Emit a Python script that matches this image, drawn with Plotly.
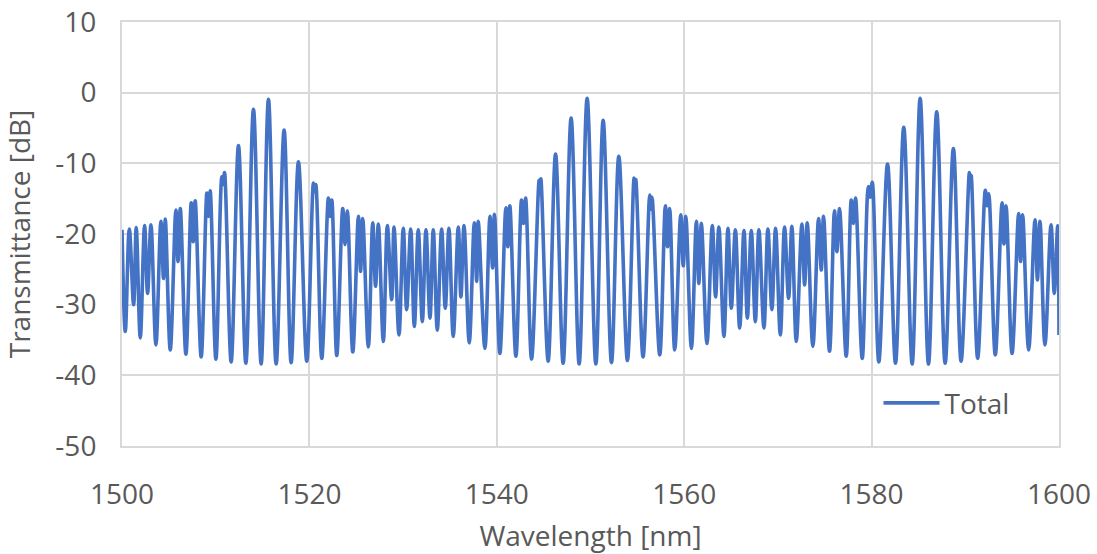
import plotly.graph_objects as go

# Extrema (peaks, inner dips and troughs)
wavelength_nm = [
    1500.00, 1500.35, 1500.78, 1501.24, 1501.52, 1501.95, 1502.41, 1502.73, 1503.09, 1503.62,
    1504.15, 1504.43, 1504.62, 1505.15, 1505.75, 1505.98, 1506.22, 1506.82, 1507.39, 1507.60,
    1507.81, 1508.45, 1509.06, 1509.23, 1509.41, 1510.02, 1510.66, 1510.80, 1510.94, 1511.65,
    1512.43, 1513.22, 1514.03, 1514.85, 1515.63, 1516.45, 1517.30, 1518.05, 1518.83, 1519.72,
    1520.43, 1520.55, 1520.68, 1521.32, 1522.03, 1522.21, 1522.39, 1522.92, 1523.56, 1523.80,
    1524.05, 1524.63, 1525.23, 1525.46, 1525.69, 1526.29, 1526.76, 1527.06, 1527.36, 1527.89,
    1528.32, 1528.78, 1529.03, 1529.56, 1530.02, 1530.38, 1530.81, 1531.20, 1531.62, 1532.05,
    1532.44, 1532.87, 1533.22, 1533.65, 1534.11, 1534.50, 1534.89, 1535.35, 1535.89, 1536.17,
    1536.50, 1537.06, 1537.60, 1537.85, 1538.02, 1538.73, 1539.27, 1539.55, 1539.75, 1540.33,
    1540.97, 1541.18, 1541.39, 1542.04, 1542.64, 1542.85, 1543.07, 1543.71, 1544.52, 1544.61,
    1544.70, 1545.48, 1546.27, 1547.08, 1547.93, 1548.79, 1549.64, 1550.57, 1551.35, 1552.24,
    1553.02, 1553.94, 1554.65, 1554.74, 1554.83, 1555.61, 1556.32, 1556.45, 1556.57, 1557.39,
    1557.99, 1558.22, 1558.45, 1558.99, 1559.63, 1559.90, 1560.17, 1560.77, 1561.30, 1561.56,
    1561.83, 1562.43, 1563.00, 1563.35, 1563.70, 1564.24, 1564.67, 1565.03, 1565.46, 1565.92,
    1566.38, 1566.74, 1567.16, 1567.59, 1567.97, 1568.51, 1568.93, 1569.36, 1569.75, 1570.26,
    1570.71, 1571.14, 1571.49, 1571.96, 1572.56, 1572.85, 1573.13, 1573.73, 1574.34, 1574.63,
    1574.87, 1575.51, 1576.04, 1576.30, 1576.58, 1577.29, 1577.83, 1578.05, 1578.28, 1579.00,
    1579.65, 1579.85, 1580.07, 1580.77, 1581.70, 1582.55, 1583.43, 1584.33, 1585.18, 1586.07,
    1586.95, 1587.85, 1588.73, 1589.55, 1590.44, 1590.53, 1590.62, 1591.32, 1592.14, 1592.32,
    1592.50, 1593.20, 1593.92, 1594.13, 1594.35, 1594.99, 1595.69, 1595.90, 1596.12, 1596.76,
    1597.44, 1597.70, 1597.97, 1598.50, 1599.15, 1599.50, 1599.86, 1600.00,
]

transmittance_db = [
    -19.4, -33.8, -19.3, -30.0, -19.1, -34.7, -18.8, -28.4, -18.7, -35.7,
    -18.2, -26.3, -17.9, -36.4, -16.6, -23.9, -16.4, -37.0, -15.6, -21.1,
    -15.3, -37.4, -14.2, -17.5, -13.9, -37.7, -11.9, -13.0, -11.3, -38.1,
    -7.5, -38.3, -2.35, -38.4, -0.94, -38.4, -5.3, -38.2, -9.8, -38.0,
    -12.8, -14.0, -13.0, -37.6, -14.9, -17.5, -15.2, -37.2, -16.4, -21.5,
    -16.7, -36.7, -17.5, -25.3, -17.8, -36.0, -18.4, -27.4, -18.6, -35.2,
    -18.8, -29.3, -19.0, -34.3, -19.2, -30.7, -19.3, -33.1, -19.4, -32.4,
    -19.4, -31.9, -19.4, -33.6, -19.3, -30.5, -19.2, -34.5, -19.0, -28.9,
    -18.8, -35.4, -18.4, -26.7, -18.2, -36.2, -17.5, -24.8, -17.2, -36.9,
    -16.3, -21.8, -16.0, -37.3, -15.2, -18.5, -14.9, -37.7, -12.4, -13.5,
    -12.2, -38.0, -8.7, -38.3, -3.6, -38.4, -0.8, -38.4, -3.9, -38.2,
    -9.0, -37.9, -12.1, -13.3, -12.3, -37.4, -14.5, -16.5, -14.8, -37.1,
    -16.0, -21.8, -16.4, -36.4, -17.3, -24.5, -17.5, -36.2, -18.2, -27.0,
    -18.5, -35.5, -18.8, -28.9, -19.0, -34.5, -19.2, -30.5, -19.4, -33.3,
    -19.5, -31.9, -19.5, -32.4, -19.4, -33.3, -19.3, -30.7, -19.2, -34.3,
    -19.0, -29.1, -18.9, -35.2, -18.6, -27.2, -18.4, -35.9, -17.8, -25.1,
    -17.5, -36.6, -16.7, -22.5, -16.4, -37.3, -15.2, -18.5, -14.9, -37.6,
    -13.3, -14.8, -12.7, -38.1, -10.1, -38.3, -4.9, -38.4, -0.8, -38.4,
    -2.7, -38.3, -7.9, -38.0, -11.3, -12.5, -11.7, -37.6, -13.8, -16.0,
    -14.3, -37.1, -15.6, -21.4, -16.0, -36.9, -17.1, -23.9, -17.3, -36.4,
    -18.0, -26.5, -18.2, -35.7, -18.7, -28.4, -18.85, -34.3,
]

series_name = "Total"
x_tick_vals = [1500, 1520, 1540, 1560, 1580, 1600]
x_tick_text = ["1500", "1520", "1540", "1560", "1580", "1600"]
y_tick_vals = [-50, -40, -30, -20, -10, 0, 10]
y_tick_text = ["-50", "-40", "-30", "-20", "-10", "0", "10"]
x_title = "Wavelength [nm]"
y_title = "Transmittance [dB]"

FONT = "Open Sans"
TXT = "#595959"
GRID = "#d9d9d9"

fig = go.Figure()
fig.add_trace(go.Scatter(
    x=wavelength_nm, y=transmittance_db, name=series_name, mode="lines",
    line=dict(color="#4472C4", width=3.6, shape="spline", smoothing=1.0),
))

fig.update_layout(
    width=1097, height=554,
    margin=dict(l=122, r=38, t=22, b=108),
    paper_bgcolor="white", plot_bgcolor="white",
    font=dict(family=FONT, size=28, color=TXT),
    showlegend=True,
    legend=dict(x=0.9525, xanchor="right", y=0.042, yanchor="bottom",
                bgcolor="white", borderwidth=0, itemwidth=56,
                font=dict(family=FONT, size=28, color=TXT)),
)
fig.update_xaxes(
    range=[1500, 1600], tickvals=x_tick_vals, ticktext=x_tick_text,
    showgrid=True, gridcolor=GRID, gridwidth=2, zeroline=False,
    showline=True, linecolor=GRID, linewidth=2, mirror=True,
    ticks="", ticklabelstandoff=22, automargin=False,
    title=dict(text=x_title, standoff=16, font=dict(family=FONT, size=28, color=TXT)),
)
fig.update_yaxes(
    range=[-50, 10], tickvals=y_tick_vals, ticktext=y_tick_text,
    showgrid=True, gridcolor=GRID, gridwidth=2, zeroline=False,
    showline=True, linecolor=GRID, linewidth=2, mirror=True,
    ticks="", ticklabelstandoff=18, automargin=False,
    title=dict(text=y_title, standoff=18, font=dict(family=FONT, size=28, color=TXT)),
)

fig.write_html("out.html")
